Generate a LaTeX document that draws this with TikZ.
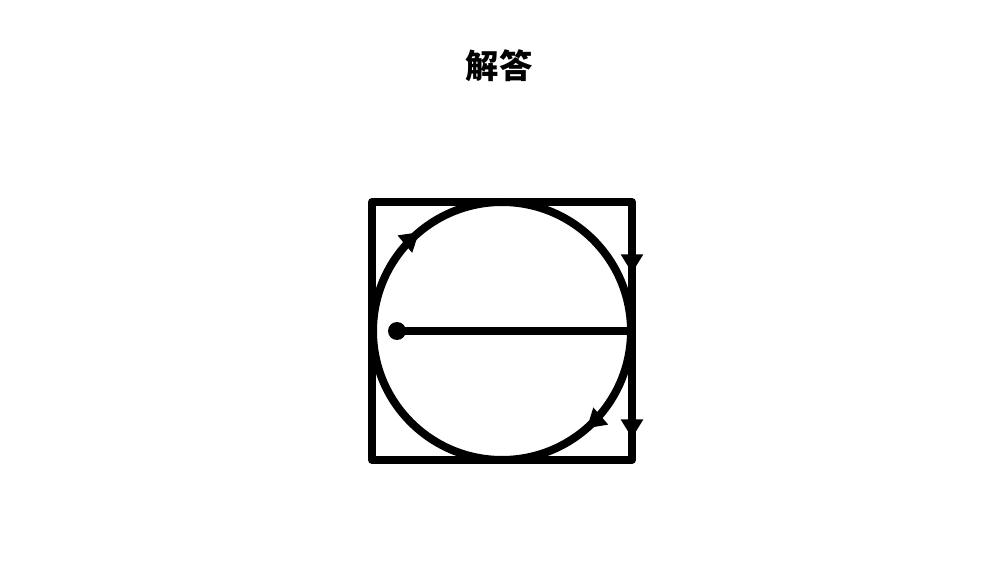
\documentclass[tikz,border=0pt]{standalone}
\usepackage{fontspec}
\newfontfamily\cjk{Noto Sans CJK SC}
\usetikzlibrary{arrows.meta,decorations.markings}

\tikzset{
  twotips/.style 2 args={decoration={markings,
      mark=at position #1 with {\arrow{Triangle[width=16pt,length=14pt]}},
      mark=at position #2 with {\arrow{Triangle[width=16pt,length=14pt]}}},
    postaction={decorate}}
}

\begin{document}
\begin{tikzpicture}[x=0.75pt,y=-0.75pt,line width=6pt,line join=round]
        \useasboundingbox (0,0) rectangle (1000,563);
        \node[font=\cjk\bfseries\fontsize{25pt}{30pt}\selectfont] (title) at (499,66) {解答};

        \draw (372,202) rectangle (632,460);
        \draw[twotips={0.136}{0.639}] (502,331) circle[radius=129];

        % right side, going down
        \coordinate (tr) at (632,202);
        \coordinate (br) at (632,460);
        \draw[twotips={0.275}{0.915}] (tr) -- (br);

        \node[circle,fill,inner sep=0pt,minimum size=13.5pt] (dot) at (397,331) {};
        \coordinate (rim) at (632,331);
        \draw[-] (dot.center) -- (rim);
    \end{tikzpicture}
\end{document}
